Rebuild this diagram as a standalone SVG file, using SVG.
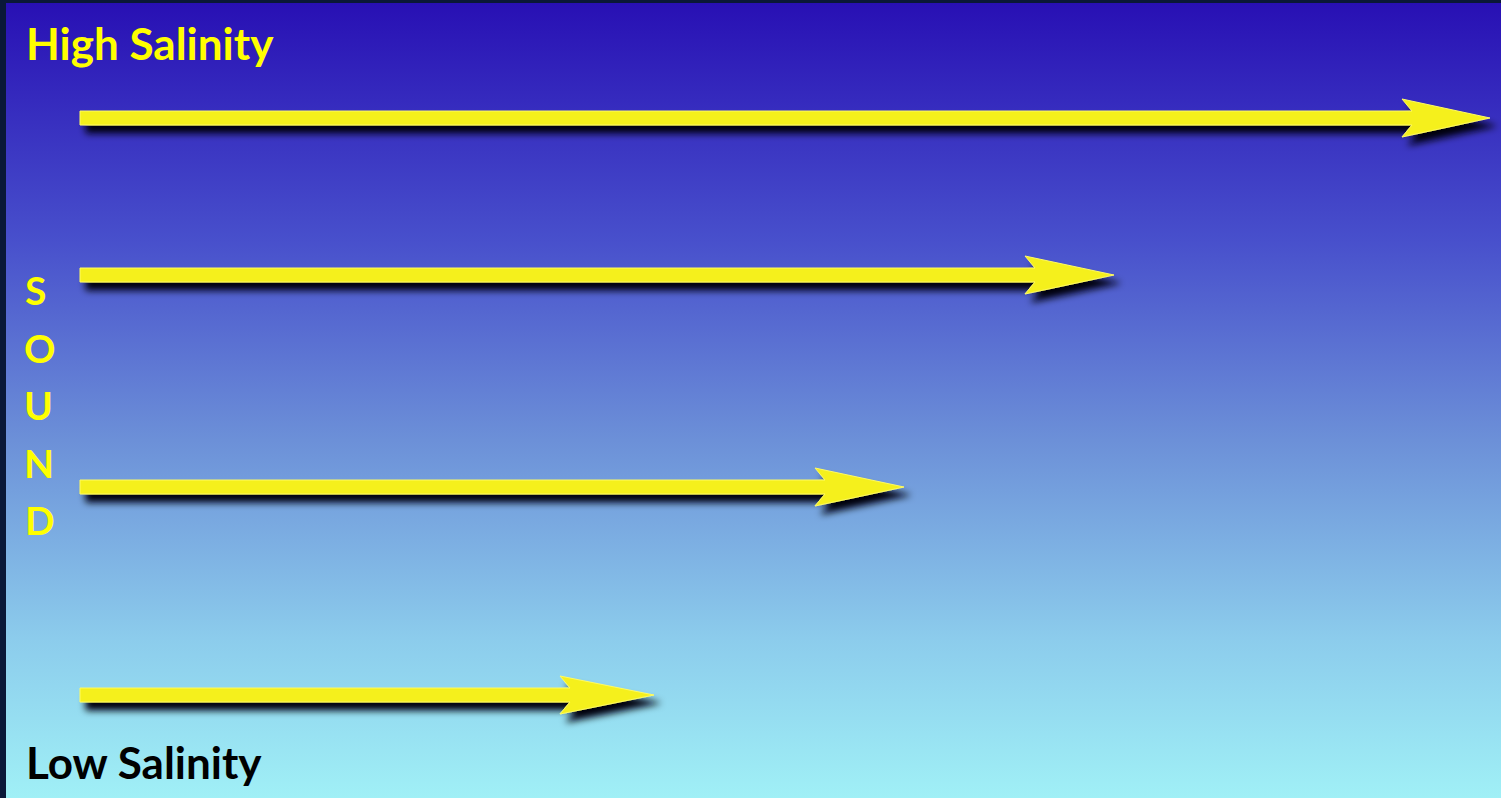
<svg xmlns="http://www.w3.org/2000/svg" width="1501" height="798" viewBox="0 0 1501 798">
<defs>
<linearGradient id="bg" x1="0" y1="0" x2="0" y2="1">
<stop offset="0" stop-color="#2810b4"/>
<stop offset="0.3" stop-color="#4850cc"/>
<stop offset="0.55" stop-color="#6c90d8"/>
<stop offset="0.8" stop-color="#8cccec"/>
<stop offset="1" stop-color="#a0f0f6"/>
</linearGradient>
<filter id="sh" x="-5%" y="-100%" width="110%" height="300%">
<feGaussianBlur in="SourceAlpha" stdDeviation="3.5"/>
<feOffset dx="6" dy="8" result="b"/>
<feFlood flood-color="#000010" flood-opacity="1"/>
<feComposite in2="b" operator="in" result="s"/>
<feMerge><feMergeNode in="s"/><feMergeNode in="SourceGraphic"/></feMerge>
</filter>
<style>
.arr{fill:#f5f01e;stroke:#fffb60;stroke-width:1;filter:url(#sh)}
.t{font-family:Lato,"Open Sans","Liberation Sans",sans-serif;font-weight:bold}
.y{fill:#ffff00}
</style>
</defs>
<rect width="1501" height="798" fill="#0a1838"/>
<rect x="6" y="3" width="1495" height="795" fill="url(#bg)"/>
<g id="connectors">
<polygon class="arr" points="80,111 1412,111 1402,99 1490,118 1402,137 1412,125 80,125"/>
<polygon class="arr" points="80,268 1035,268 1025,256 1114,275 1025,294 1035,282 80,282"/>
<polygon class="arr" points="80,480 825,480 815,468 904,487 815,506 825,494 80,494"/>
<polygon class="arr" points="80,688 570,688 560,676 654,695 560,714 570,702 80,702"/>
</g>
<g id="high-salinity"><text class="t y" x="26" y="60" font-size="44">High Salinity</text></g>
<g id="sound" class="t y" font-size="39">
<text x="25" y="305">S</text>
<text x="24" y="363">O</text>
<text x="24" y="420">U</text>
<text x="24" y="478">N</text>
<text x="25" y="535">D</text>
</g>
<g id="low-salinity"><text class="t" x="26" y="779" font-size="44" fill="#000">Low Salinity</text></g>
</svg>
